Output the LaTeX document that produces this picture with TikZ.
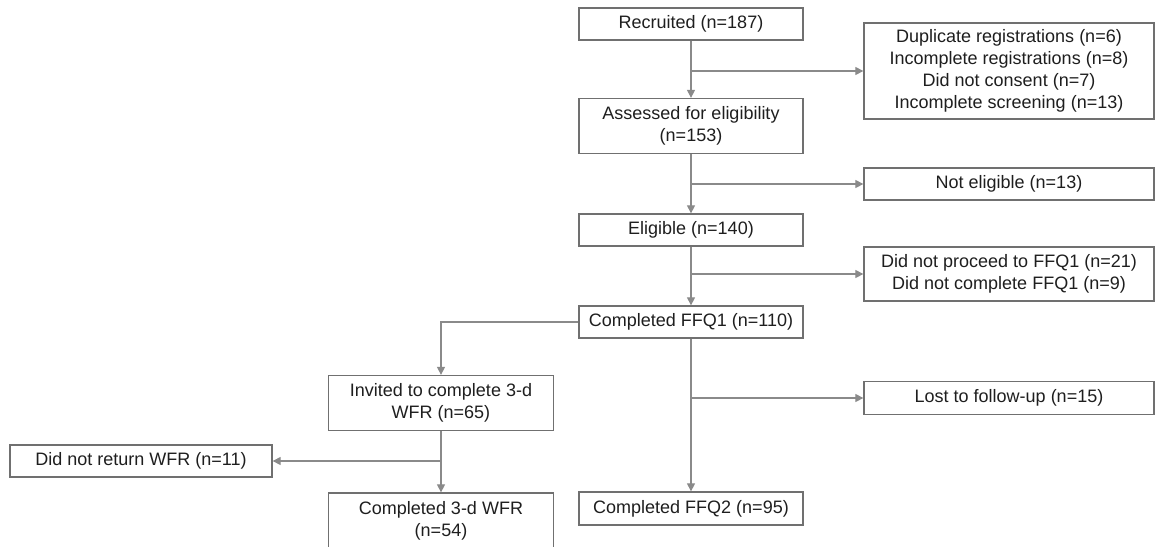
\documentclass[tikz,border=0pt]{standalone}
\usepackage{fontspec}
\setmainfont{Liberation Sans}
\usetikzlibrary{arrows.meta}
\definecolor{boxgray}{HTML}{707070}
\definecolor{linegray}{HTML}{8A8A8A}
\definecolor{txtgray}{HTML}{1E1E1E}
\tikzset{
  box/.style={draw=boxgray, line width=1.3pt, inner sep=0pt, align=center,
    text=txtgray, font=\fontsize{18}{21.8}\selectfont},
  mainbox/.style={box, minimum width=224pt},
  sidebox/.style={box, minimum width=290pt},
  arr/.style={draw=linegray, line width=1.2pt,
    -{Triangle[length=8pt,width=8pt]}, linegray},
  lin/.style={draw=linegray, line width=1.2pt}
}
\begin{document}
\begin{tikzpicture}[x=1pt,y=-1pt]
  \useasboundingbox (0,0) rectangle (1156,546);
  % main column
  \node [mainbox, minimum height=32pt] (recruited) at (691,24) {Recruited (n=187)};
  \node [mainbox, minimum height=55pt] (assessed) at (691,126) {Assessed for eligibility\\(n=153)};
  \node [mainbox, minimum height=32pt] (eligible) at (691,230) {Eligible (n=140)};
  \node [mainbox, minimum height=32pt] (ffq1) at (691,322) {Completed FFQ1 (n=110)};
  \node [mainbox, minimum height=33pt] (ffq2) at (691,508.5) {Completed FFQ2 (n=95)};
  % exclusions on the right
  \node [sidebox, minimum height=96pt] (excl1) at (1009,71) {Duplicate registrations (n=6)\\Incomplete registrations (n=8)\\Did not consent (n=7)\\Incomplete screening (n=13)};
  \node [sidebox, minimum height=32pt] (notelig) at (1009,184) {Not eligible (n=13)};
  \node [sidebox, minimum height=54pt] (noproc) at (1009,274) {Did not proceed to FFQ1 (n=21)\\Did not complete FFQ1 (n=9)};
  \node [sidebox, minimum height=33pt] (lost) at (1009,398) {Lost to follow-up (n=15)};
  % WFR branch
  \node [box, minimum width=225pt, minimum height=55pt] (invited) at (441,403) {Invited to complete 3-d\\WFR (n=65)};
  \node [box, minimum width=262pt, minimum height=32pt] (noreturn) at (141,461) {Did not return WFR (n=11)};
  \node [box, minimum width=225pt, minimum height=56pt] (wfr) at (441,521) {Completed 3-d WFR\\(n=54)};

  \draw [arr] (recruited) -- (assessed);
  \draw [arr] (assessed) -- (eligible);
  \draw [arr] (eligible) -- (ffq1);
  \draw [arr] (ffq1) -- (ffq2);
  \draw [arr] (recruited |- excl1) -- (excl1);
  \draw [arr] (assessed |- notelig) -- (notelig);
  \draw [arr] (eligible |- noproc) -- (noproc);
  \draw [arr] (ffq1 |- lost) -- (lost);
  \draw [arr] (ffq1.west) -| (invited);
  \draw [arr] (invited) -- (wfr);
  \draw [arr] (invited |- noreturn) -- (noreturn);
\end{tikzpicture}
\end{document}
